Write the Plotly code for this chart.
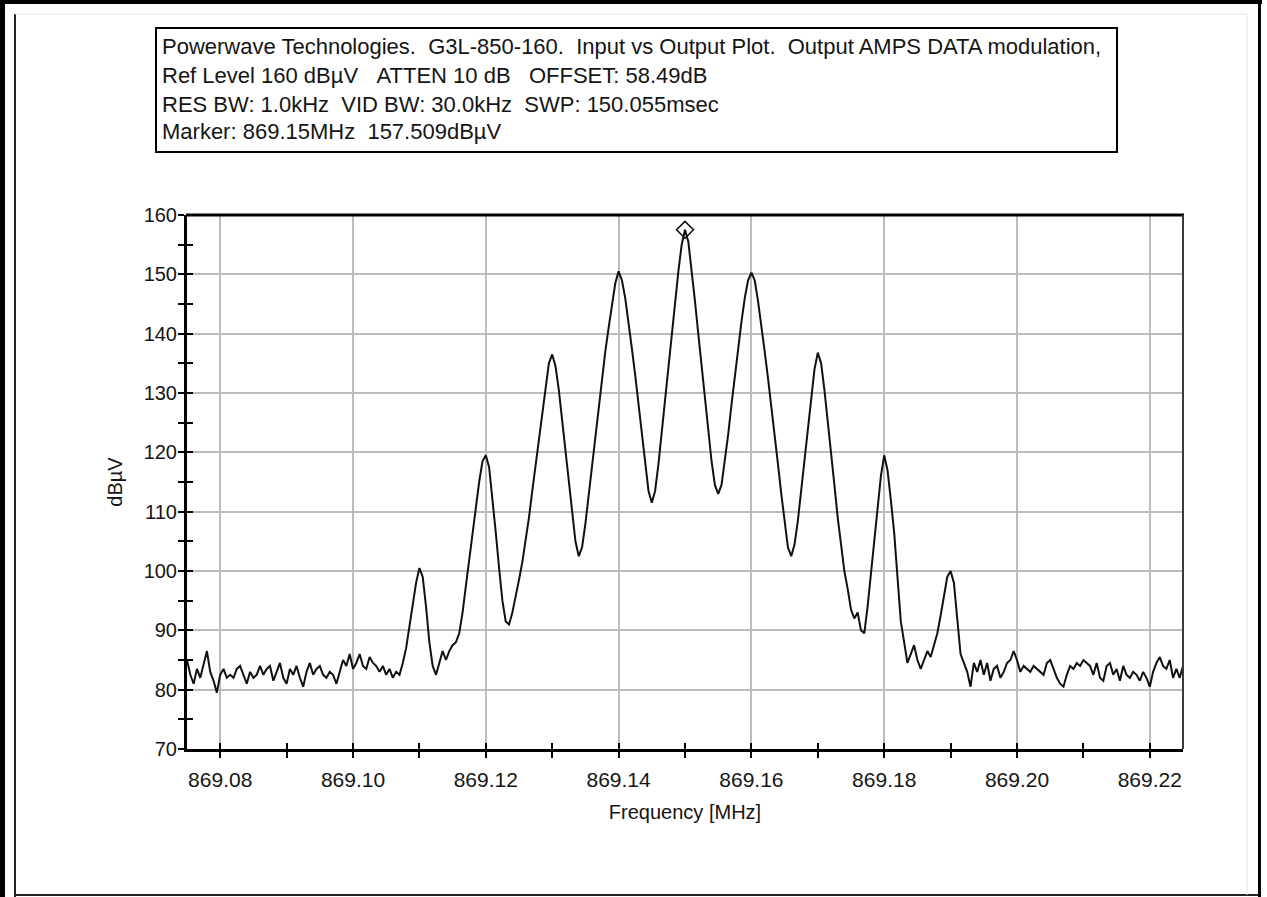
import plotly.graph_objects as go

# ---------------- data ----------------
freq_start_mhz = 869.075
freq_step_mhz = 0.0005
level_dbuv = [
    85.0, 82.5, 81.0, 83.5, 82.0, 84.5, 86.5, 83.0, 81.5, 79.5,
    82.5, 83.5, 82.0, 82.5, 82.0, 83.5, 84.0, 82.5, 81.0, 83.0,
    82.0, 82.5, 84.0, 82.5, 83.5, 84.0, 81.5, 83.0, 84.5, 82.0,
    81.0, 83.5, 82.5, 84.0, 82.0, 80.5, 83.0, 84.5, 82.5, 83.5,
    84.0, 82.5, 82.0, 83.0, 82.5, 81.0, 83.0, 85.0, 84.0, 86.0,
    83.5, 84.5, 86.0, 84.0, 83.5, 85.5, 84.5, 84.0, 83.0, 84.0,
    82.5, 83.5, 82.0, 83.0, 82.5, 84.5, 87.0, 90.5, 94.5, 98.0,
    100.5, 99.0, 94.0, 88.0, 84.0, 82.5, 84.5, 86.5, 85.0, 86.5,
    87.5, 88.0, 89.5, 93.0, 97.5, 102.0, 106.5, 111.0, 115.0, 118.5,
    119.5, 117.5, 112.5, 106.5, 100.5, 95.0, 91.5, 91.0, 93.0, 95.5,
    98.5, 101.5, 105.0, 109.0, 113.5, 118.0, 122.5, 127.0, 131.5, 135.0,
    136.5, 134.5, 130.5, 125.5, 120.0, 114.5, 109.5, 105.0, 102.5, 104.0,
    108.0, 113.0, 118.0, 123.0, 128.0, 132.5, 137.0, 141.0, 145.0, 148.5,
    150.5, 149.0, 146.0, 142.0, 137.5, 133.0, 128.0, 123.0, 118.0, 113.5,
    111.5, 113.5, 118.0, 123.5, 129.0, 134.5, 140.0, 145.5, 150.5, 155.0,
    157.5, 155.5, 151.0, 145.5, 140.0, 134.5, 129.0, 123.5, 118.5, 114.5,
    113.0, 114.5, 118.5, 123.0, 128.0, 133.0, 137.5, 142.0, 146.0, 149.0,
    150.3, 149.0, 145.5, 141.5, 137.0, 132.5, 128.0, 123.0, 118.0, 113.0,
    108.0, 104.0, 102.5, 104.5, 108.5, 113.5, 118.5, 123.5, 129.0, 134.0,
    136.8, 135.0, 130.5, 125.5, 120.0, 114.5, 109.0, 104.0, 100.0, 97.0,
    93.5, 92.0, 93.0, 90.0, 89.5, 94.0, 99.5, 105.0, 110.5, 116.0,
    119.5, 117.0, 112.0, 106.5, 99.0, 91.5, 88.0, 84.5, 86.0, 87.5,
    85.0, 83.5, 85.0, 86.5, 85.5, 87.5, 89.5, 92.5, 96.0, 99.0,
    100.0, 98.0, 92.0, 86.0, 84.5, 83.0, 80.5, 84.5, 83.0, 85.0,
    82.5, 84.5, 81.5, 83.5, 84.0, 82.0, 83.0, 84.5, 85.0, 86.5,
    85.0, 83.0, 84.0, 83.5, 83.0, 84.0, 83.5, 83.0, 82.5, 84.5,
    85.0, 83.5, 82.0, 81.0, 80.5, 82.5, 84.0, 83.5, 84.5, 84.0,
    85.0, 84.5, 84.0, 82.5, 84.5, 82.0, 81.5, 84.0, 84.5, 82.5,
    83.5, 81.5, 84.0, 82.5, 82.0, 83.0, 82.5, 81.5, 83.0, 82.0,
    80.5, 83.0, 84.5, 85.5, 84.0, 83.5, 85.0, 82.0, 83.5, 82.0, 84.0,
]
freq_mhz = [round(freq_start_mhz + i * freq_step_mhz, 4) for i in range(len(level_dbuv))]

marker_freq = [869.15]
marker_level = [157.509]

x_range = [869.075, 869.225]
y_range = [70, 160]

NB = "\u00a0"
header_lines = [
    ("Powerwave Technologies." + NB * 2 + "G3L-850-160." + NB * 2 + "Input vs Output Plot."
     + NB * 2 + "Output AMPS DATA modulation,", 47),
    ("Ref Level 160 dB\u00b5V" + NB * 3 + "ATTEN 10 dB" + NB * 3 + "OFFSET: 58.49dB", 76),
    ("RES BW: 1.0kHz" + NB * 2 + "VID BW: 30.0kHz" + NB * 2 + "SWP: 150.055msec", 104),
    ("Marker: 869.15MHz" + NB * 2 + "157.509dB\u00b5V", 132),
]

# ---------------- layout geometry ----------------
W, H = 1267, 897
L, R, T, B = 187, 84, 215, 148
PW, PH = W - L - R, H - T - B


def px(x):
    return (x - L) / PW


def py(y):
    return (H - B - y) / PH


FONT = "Liberation Sans, Arial, sans-serif"
TXT = "#151515"

fig = go.Figure()
fig.add_trace(go.Scatter(
    x=freq_mhz, y=level_dbuv, mode="lines",
    line=dict(color="#111111", width=2),
    showlegend=False, hoverinfo="skip",
))
fig.add_trace(go.Scatter(
    x=marker_freq, y=marker_level, mode="markers",
    marker=dict(symbol="diamond-open", size=13, color="#111111", line=dict(width=1.6)),
    xaxis="x2", yaxis="y2", showlegend=False,
))

tick_common = dict(tickcolor="black", tickwidth=2, ticklen=6)

fig.update_layout(
    width=W, height=H, autosize=False,
    margin=dict(l=L, r=R, t=T, b=B, pad=0),
    paper_bgcolor="white", plot_bgcolor="white",
    font=dict(family=FONT, size=20, color=TXT),
    xaxis=dict(
        range=x_range, tick0=869.08, dtick=0.02, tickformat=".2f",
        ticks="outside", **tick_common,
        minor=dict(dtick=0.01, tick0=869.08, ticks="outside", ticklen=6, tickwidth=2,
                   tickcolor="black", showgrid=False),
        showgrid=True, gridcolor="#bcbcbc", gridwidth=2,
        showline=True, linecolor="black", linewidth=3,
        zeroline=False, automargin=False,
        ticklabelstandoff=4,
        tickfont=dict(family=FONT, size=21, color=TXT),
        title=dict(text="Frequency [MHz]", standoff=15,
                   font=dict(family=FONT, size=20, color=TXT)),
    ),
    yaxis=dict(
        range=y_range, tick0=70, dtick=10,
        ticks="outside", **tick_common,
        minor=dict(dtick=5, tick0=70, ticks="outside", ticklen=6, tickwidth=2,
                   tickcolor="black", showgrid=False),
        showgrid=True, gridcolor="#bcbcbc", gridwidth=2,
        showline=True, linecolor="black", linewidth=3,
        zeroline=False, automargin=False,
        ticklabelstandoff=-3,
        tickfont=dict(family=FONT, size=20, color=TXT),
        title=dict(text="dB\u00b5V", standoff=16,
                   font=dict(family=FONT, size=20, color=TXT)),
    ),
    xaxis2=dict(
        matches="x", overlaying="x", anchor="y2", side="bottom",
        tick0=869.08, dtick=0.02, ticks="inside", **tick_common,
        minor=dict(dtick=0.01, tick0=869.08, ticks="inside", ticklen=6, tickwidth=2,
                   tickcolor="black", showgrid=False),
        showticklabels=False, showgrid=False, showline=False, zeroline=False,
    ),
    yaxis2=dict(
        matches="y", overlaying="y", anchor="x2", side="left",
        tick0=70, dtick=10, ticks="inside", **tick_common,
        minor=dict(dtick=5, tick0=70, ticks="inside", ticklen=6, tickwidth=2,
                   tickcolor="black", showgrid=False),
        showticklabels=False, showgrid=False, showline=False, zeroline=False,
    ),
)

shapes = []
# plot frame top and right
shapes.append(dict(type="line", xref="paper", yref="paper", x0=px(L - 1), x1=px(W - R + 1),
                   y0=py(T), y1=py(T), line=dict(color="black", width=3)))
shapes.append(dict(type="line", xref="paper", yref="paper", x0=px(W - R), x1=px(W - R),
                   y0=py(T), y1=py(H - B), line=dict(color="#3a3a3a", width=2)))
# outer page frame
shapes.append(dict(type="rect", xref="paper", yref="paper", x0=px(0), x1=px(5),
                   y0=py(H), y1=py(0), fillcolor="black", line=dict(width=0)))
shapes.append(dict(type="rect", xref="paper", yref="paper", x0=px(0), x1=px(1262),
                   y0=py(4), y1=py(0), fillcolor="black", line=dict(width=0)))
shapes.append(dict(type="rect", xref="paper", yref="paper", x0=px(1258), x1=px(1261),
                   y0=py(H), y1=py(0), fillcolor="black", line=dict(width=0)))
# inner page frame
shapes.append(dict(type="line", xref="paper", yref="paper", x0=px(15), x1=px(15),
                   y0=py(14), y1=py(H), line=dict(color="#222222", width=2)))
shapes.append(dict(type="line", xref="paper", yref="paper", x0=px(15), x1=px(1258),
                   y0=py(895), y1=py(895), line=dict(color="#222222", width=2)))
shapes.append(dict(type="line", xref="paper", yref="paper", x0=px(15), x1=px(1247),
                   y0=py(14), y1=py(14), line=dict(color="#e2e2e2", width=1)))
shapes.append(dict(type="line", xref="paper", yref="paper", x0=px(1247), x1=px(1247),
                   y0=py(14), y1=py(895), line=dict(color="#e2e2e2", width=1)))
# header box
shapes.append(dict(type="rect", xref="paper", yref="paper", x0=px(156), x1=px(1117),
                   y0=py(152), y1=py(28), line=dict(color="black", width=2),
                   fillcolor="rgba(0,0,0,0)"))
fig.update_layout(shapes=shapes)

annotations = []
for text, yc in header_lines:
    annotations.append(dict(text=text, x=px(160), y=py(yc), xref="paper", yref="paper",
                            xanchor="left", yanchor="middle", showarrow=False,
                            font=dict(family=FONT, size=22, color=TXT)))
fig.update_layout(annotations=annotations)

fig.write_html("out.html")
